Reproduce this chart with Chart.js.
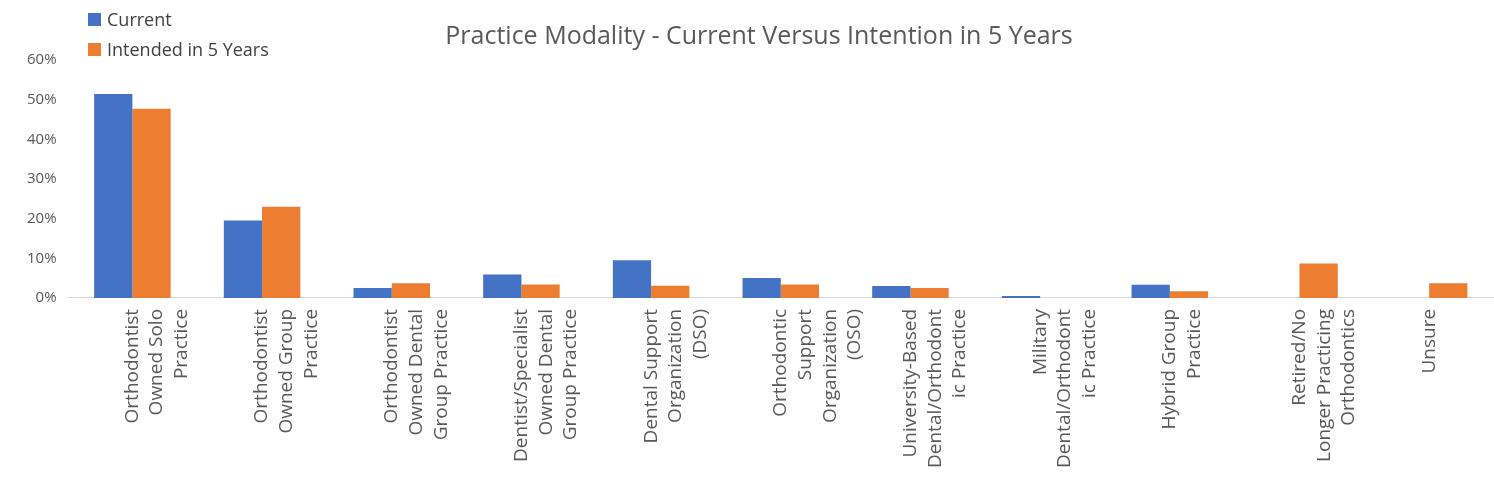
<!DOCTYPE html>
<html>
<head>
<meta charset="utf-8">
<script src="https://cdn.jsdelivr.net/npm/chart.js@4"></script>
<style>
  body { margin: 0; background: #fff; font-family: "Open Sans", sans-serif; }
  #wrap { position: relative; width: 1494px; height: 479px; }
  #legend { position: absolute; left: 88px; top: 4px; font-size: 18px; color: #404040; line-height: 30px; }
  #legend span.box { display: inline-block; width: 13px; height: 13px; margin-right: 6px; }
</style>
</head>
<body>
<div id="wrap">
  <canvas id="chart" width="1494" height="479"></canvas>
  <div id="legend"></div>
</div>
<script>
const categories = [
    ['Orthodontist', 'Owned Solo', 'Practice'],
    ['Orthodontist', 'Owned Group', 'Practice'],
    ['Orthodontist', 'Owned Dental', 'Group Practice'],
    ['Dentist/Specialist', 'Owned Dental', 'Group Practice'],
    ['Dental Support', 'Organization', '(DSO)'],
    ['Orthodontic', 'Support', 'Organization', '(OSO)'],
    ['University-Based', 'Dental/Orthodont', 'ic Practice'],
    ['Military', 'Dental/Orthodont', 'ic Practice'],
    ['Hybrid Group', 'Practice'],
    ['Retired/No', 'Longer Practicing', 'Orthodontics'],
    ['Unsure']
];
const currentValues = [51.4, 19.5, 2.5, 5.9, 9.5, 5.0, 3.0, 0.5, 3.3, 0, 0];
const intendedValues = [47.7, 23.0, 3.7, 3.4, 3.1, 3.4, 2.5, 0, 1.7, 8.7, 3.7];
const seriesNames = ['Current', 'Intended in 5 Years'];
const seriesColors = ['#4472C4', '#ED7D31'];

const ctx = document.getElementById('chart').getContext('2d');
new Chart(ctx, {
    type: 'bar',
    data: {
        labels: categories,
        datasets: [
            {label: seriesNames[0], data: currentValues, backgroundColor: seriesColors[0]},
            {label: seriesNames[1], data: intendedValues, backgroundColor: seriesColors[1]}
        ]
    },
    options: {
        responsive: false,
        animation: false,
        layout: {padding: {left: 24, right: 0, top: 0, bottom: 8}},
        datasets: {bar: {categoryPercentage: 0.59, barPercentage: 1}},
        plugins: {
            legend: {display: false},
            tooltip: {enabled: false},
            title: {
                display: true,
                text: 'Practice Modality - Current Versus Intention in 5 Years',
                color: '#595959',
                font: {family: 'Open Sans', size: 25, weight: 'normal'},
                padding: {top: 22, bottom: 8}
            }
        },
        scales: {
            x: {
                grid: {display: false},
                border: {color: '#d9d9d9'},
                ticks: {
                    color: '#595959',
                    font: {family: 'Open Sans', size: 19, lineHeight: 1.3},
                    minRotation: 90,
                    maxRotation: 90,
                    autoSkip: false
                }
            },
            y: {
                min: 0, max: 60,
                grid: {display: false},
                border: {display: false},
                ticks: {
                    stepSize: 10,
                    color: '#595959',
                    font: {family: 'Open Sans', size: 15},
                    callback: v => v + '%'
                }
            }
        }
    }
});

document.getElementById('legend').innerHTML = seriesNames.map((n, i) =>
    `<div><span class="box" style="background:${seriesColors[i]}"></span>${n}</div>`).join('');
</script>
</body>
</html>
